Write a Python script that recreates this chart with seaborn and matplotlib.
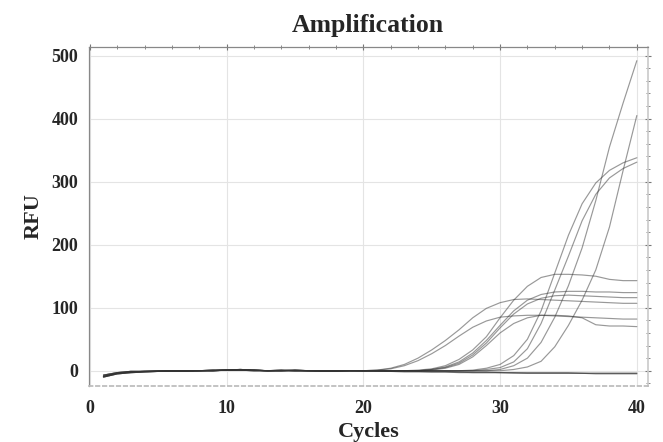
import numpy as np
import pandas as pd
import matplotlib
matplotlib.use("Agg")
import matplotlib.pyplot as plt
from matplotlib.ticker import MultipleLocator
import seaborn as sns

# cycles 1-19: shared early baselines (RFU)
base_a = [-9, -4, -2, -1, -1, 0, 0, 0, 1, 1, 2, 1, 0, 0, 1, 0, 0, 0, 0]
base_b = [-7, -3, -1, -1, 0, 0, -1, 0, 0, 1, 1, 0, 0, 1, 0, 0, -1, 0, 0]
base_c = [-10, -5, -3, -2, -1, -1, 0, 0, 0, 1, 1, 1, 0, 0, 0, 0, 0, -1, 0]

# cycles 20-40 for each well
p1 = [0, 1, 4, 10, 20, 33, 48, 65, 84, 99, 108, 113, 114, 113, 112, 111, 110, 109, 108, 107, 107]
p2 = [0, 1, 3, 8, 16, 27, 40, 55, 69, 79, 85, 87, 88, 88, 87, 86, 85, 84, 83, 82, 82]
p3 = [0, 0, 0, 0, 1, 3, 8, 18, 33, 54, 84, 112, 134, 148, 153, 153, 152, 150, 145, 143, 143]
p4 = [0, 0, 0, 0, 0, 2, 6, 14, 28, 48, 72, 95, 112, 121, 125, 126, 126, 125, 125, 124, 124]
p5 = [0, 0, 0, 0, 0, 2, 5, 12, 25, 44, 68, 90, 106, 115, 119, 120, 119, 118, 117, 116, 116]
p6 = [0, 0, 0, 0, 0, 1, 4, 10, 22, 40, 60, 75, 84, 88, 88, 87, 84, 73, 71, 71, 70]
c1 = [0, 0, 0, 0, 0, 0, 0, 0, 1, 4, 10, 24, 50, 95, 155, 215, 265, 298, 318, 330, 338]
c2 = [0, 0, 0, 0, 0, 0, 0, 0, 0, 2, 5, 14, 35, 75, 128, 182, 238, 280, 306, 321, 331]
c3 = [0, 0, 0, 0, 0, 0, 0, 0, 0, 0, 2, 8, 20, 45, 85, 135, 195, 270, 355, 425, 492]
c4 = [0, 0, 0, 0, 0, 0, 0, 0, 0, 0, 0, 2, 6, 15, 38, 72, 112, 160, 228, 318, 405]
n1 = [0, 0, -1, 0, -1, -1, -1, -2, -2, -2, -3, -3, -3, -3, -3, -3, -4, -4, -4, -4, -4]
n2 = [0, -1, -1, -1, -1, -2, -2, -2, -3, -3, -3, -3, -4, -4, -4, -4, -4, -4, -4, -4, -4]
n3 = [-1, -1, -1, -2, -2, -2, -2, -3, -3, -3, -3, -4, -4, -4, -4, -4, -4, -5, -5, -5, -5]

wells = {
    "P1": base_a + p1, "P2": base_b + p2, "P3": base_c + p3,
    "P4": base_a + p4, "P5": base_b + p5, "P6": base_c + p6,
    "C1": base_a + c1, "C2": base_b + c2, "C3": base_c + c3,
    "C4": base_a + c4, "N1": base_b + n1, "N2": base_c + n2,
    "N3": base_a + n3,
}
cycles = list(range(1, 41))

rows = []
for name, vals in wells.items():
    for c, v in zip(cycles, vals):
        rows.append({"well": name, "cycle": c, "rfu": v})
df = pd.DataFrame(rows)

sns.set_theme(style="white")
plt.rcParams["font.family"] = ["Liberation Serif", "DejaVu Serif"]
plt.rcParams["font.weight"] = "bold"

fig = plt.figure(figsize=(6.63, 4.42), dpi=100)
ax = fig.add_axes([0.134, 0.127, 0.843, 0.767])

sns.lineplot(data=df, x="cycle", y="rfu", units="well", estimator=None,
             color="#333333", alpha=0.5, lw=0.85, ax=ax, legend=False)

ax.set_xlim(-0.07, 40.8)
ax.set_ylim(-24, 514)
ax.set_xticks([0, 10, 20, 30, 40])
ax.set_yticks([0, 100, 200, 300, 400, 500])
ax.xaxis.set_minor_locator(MultipleLocator(2))
ax.yaxis.set_minor_locator(MultipleLocator(20))
ax.grid(True, which="major", color="#e4e4e4", lw=0.8)
ax.set_axisbelow(True)

ax.tick_params(axis="both", which="major", direction="inout", length=5,
               width=0.8, color="#777777", labelsize=13, pad=5,
               top=True, right=True)
ax.tick_params(axis="x", which="major", pad=8)
ax.tick_params(axis="both", which="minor", direction="inout", length=3,
               width=0.7, color="#888888", top=True, right=True)
for lab in ax.get_xticklabels() + ax.get_yticklabels():
    lab.set_fontweight("bold")

for side in ["left", "top"]:
    ax.spines[side].set_color("#888888")
    ax.spines[side].set_linewidth(0.9)
ax.spines["right"].set_color("#cccccc")
ax.spines["bottom"].set_color("#bbbbbb")
ax.spines["bottom"].set_linestyle((0, (2, 2)))

ax.set_title("Amplification", fontsize=18.5, fontweight="bold", pad=11)
ax.set_xlabel("Cycles", fontsize=16, fontweight="bold", labelpad=3)
ax.set_ylabel("RFU", fontsize=16, fontweight="bold", labelpad=6)

fig.savefig("out.png", dpi=100)
